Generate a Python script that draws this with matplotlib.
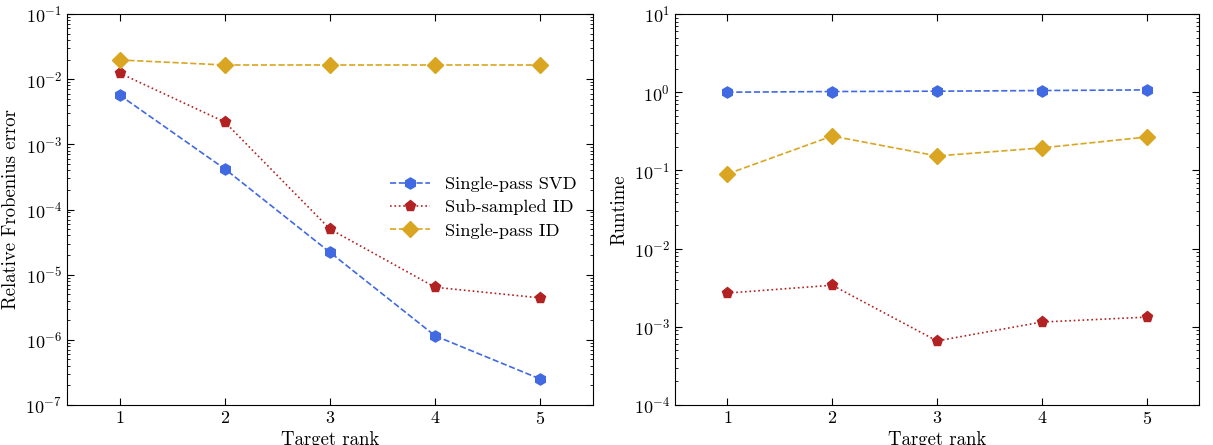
import numpy as np
import matplotlib.pyplot as plt

plt.rcParams['font.family'] = 'serif'
plt.rcParams['font.serif'] = ['cmr10']
plt.rcParams['mathtext.fontset'] = 'cm'
plt.rcParams['axes.formatter.use_mathtext'] = True
plt.rcParams['font.size'] = 13.5

ranks = [1, 2, 3, 4, 5]

# relative Frobenius error
err_svd = [5.7e-3, 4.2e-4, 2.2e-5, 1.15e-6, 2.5e-7]
err_subid = [1.24e-2, 2.2e-3, 5.0e-5, 6.4e-6, 4.4e-6]
err_spid = [1.97e-2, 1.65e-2, 1.65e-2, 1.65e-2, 1.65e-2]

# runtime
rt_svd = [1.0, 1.02, 1.03, 1.05, 1.07]
rt_subid = [2.7e-3, 3.4e-3, 6.6e-4, 1.15e-3, 1.33e-3]
rt_spid = [0.090, 0.275, 0.153, 0.194, 0.267]

labels = ['Single-pass SVD', 'Sub-sampled ID', 'Single-pass ID']
colors = ['royalblue', 'firebrick', 'goldenrod']
markers = ['h', 'p', 'D']
styles = ['--', ':', '--']

fig = plt.figure(figsize=(12.13, 4.45), dpi=100)
ax1 = fig.add_axes([67/1213, 40/445, 526/1213, 391/445])
ax2 = fig.add_axes([675/1213, 40/445, 524/1213, 391/445])

for ax, series in [(ax1, [err_svd, err_subid, err_spid]),
                   (ax2, [rt_svd, rt_subid, rt_spid])]:
    for y, lab, c, m, ls in zip(series, labels, colors, markers, styles):
        ax.plot(ranks, y, linestyle=ls, color=c, marker=m, markersize=8,
                label=lab, linewidth=1.2)
    ax.set_yscale('log')
    ax.set_xlim(0.5, 5.5)
    ax.set_xticks(ranks)
    ax.set_xlabel('Target rank', labelpad=3)
    ax.tick_params(which='both', direction='in', top=True, right=True)
    ax.tick_params(axis='x', which='minor', top=False, bottom=False)
    ax.tick_params(which='major', length=5, labelsize=13)

ax1.set_ylim(1e-7, 1e-1)
ax1.set_ylabel('Relative Frobenius error')
ax1.legend(loc='center right', frameon=False, bbox_to_anchor=(1.0, 0.505),
           handlelength=2.2, fontsize=13.2, labelspacing=0.4)

ax2.set_ylim(1e-4, 1e1)
ax2.set_ylabel('Runtime')

fig.savefig('out.png', dpi=100)
